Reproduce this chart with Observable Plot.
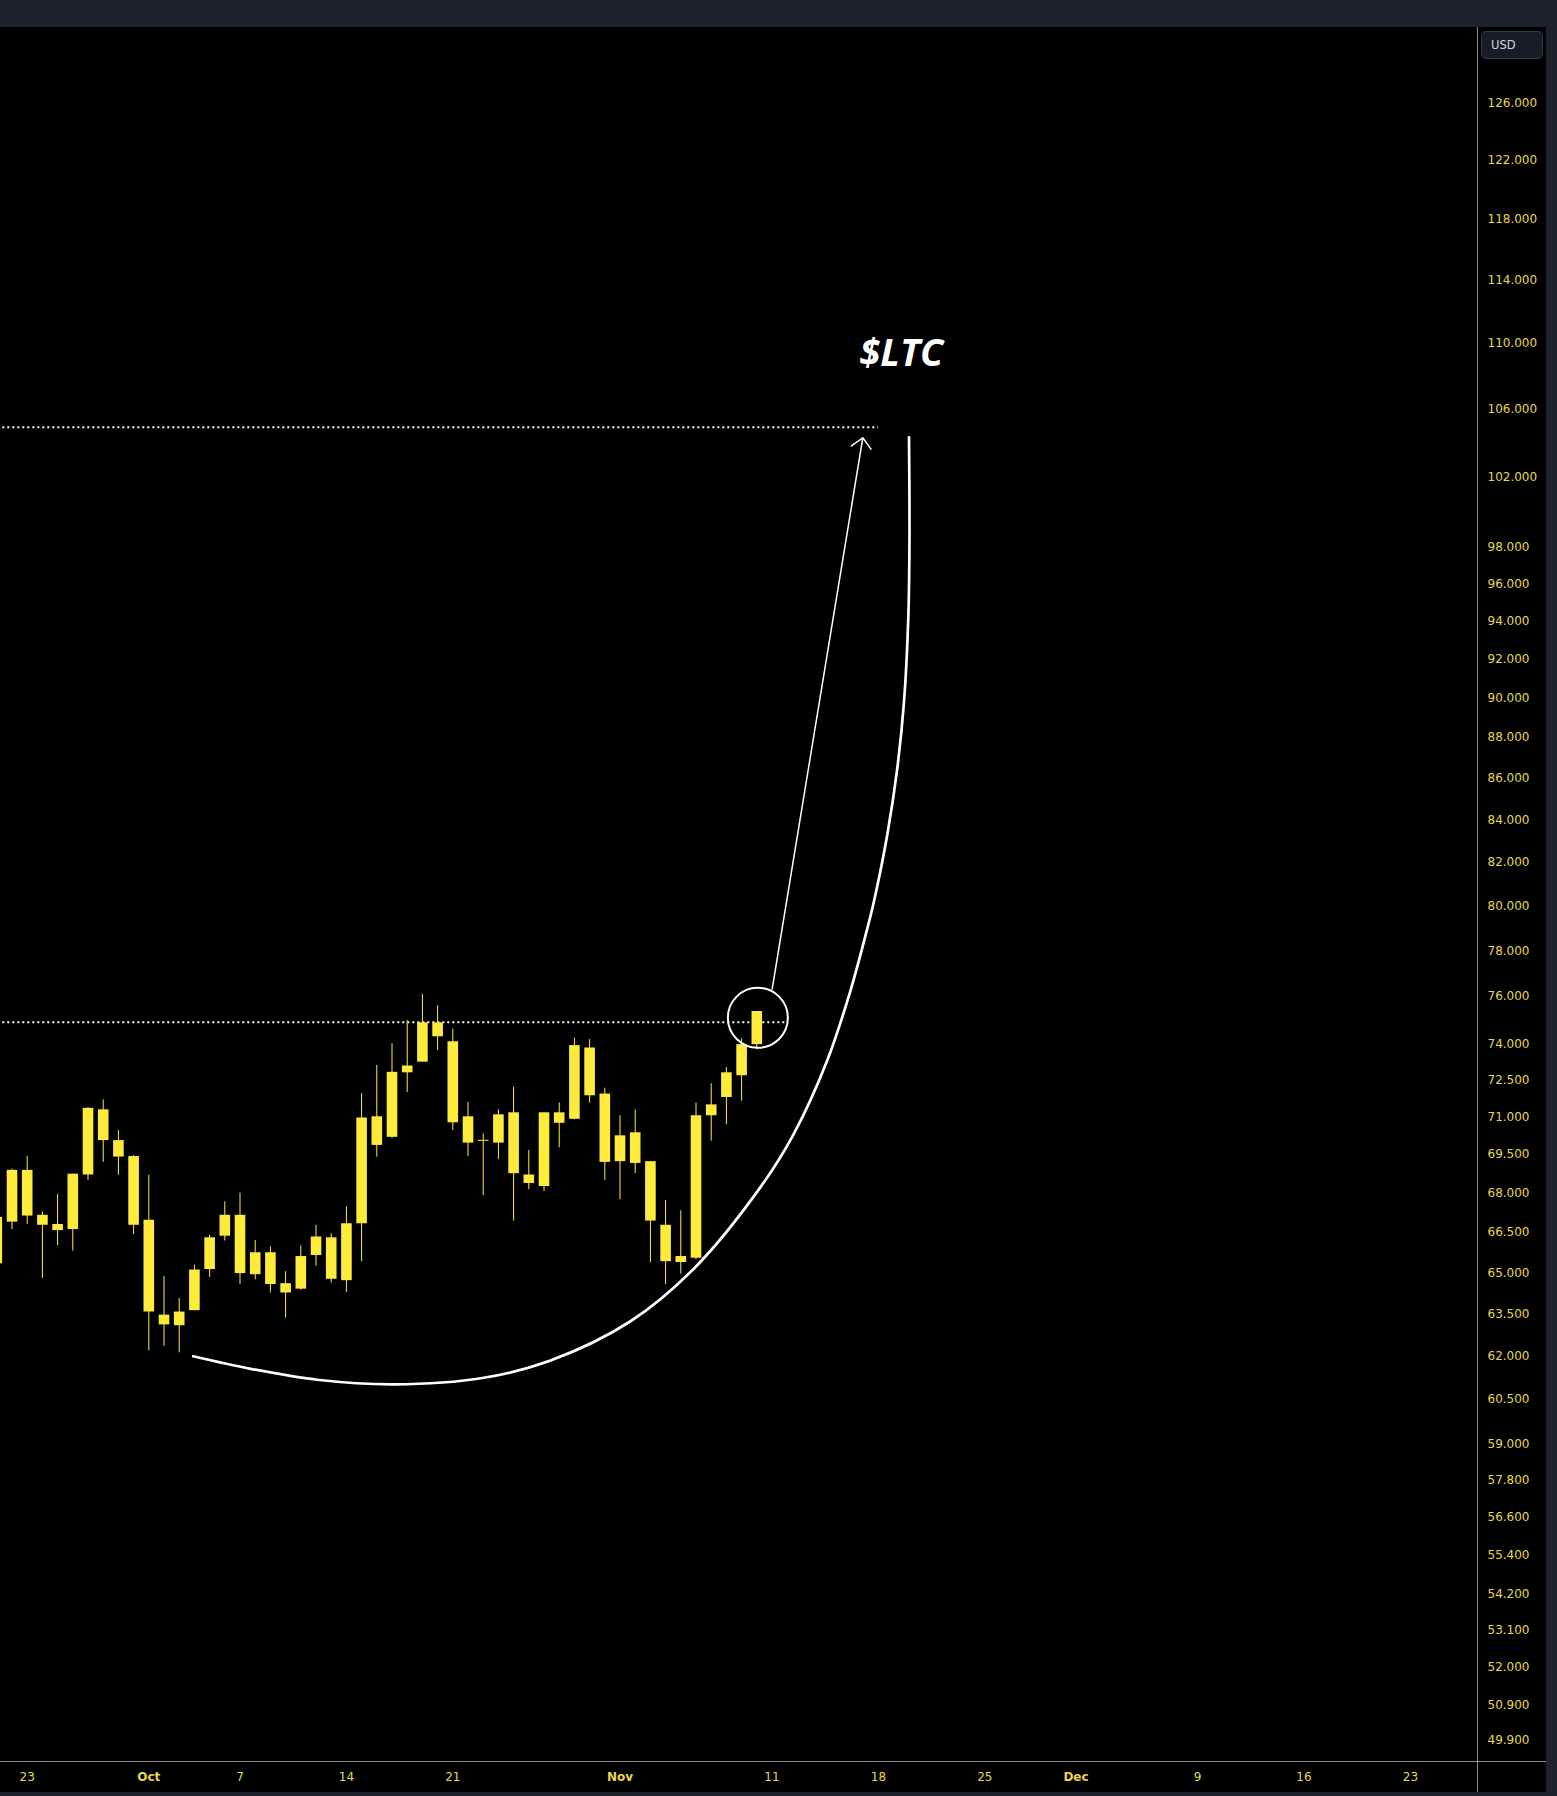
<!DOCTYPE html>
<html>
<head>
<meta charset="utf-8">
<script src="https://cdn.jsdelivr.net/npm/d3@7"></script>
<script src="https://cdn.jsdelivr.net/npm/@observablehq/plot@0.6"></script>
<style>
  html, body { margin: 0; padding: 0; background: #000; overflow: hidden; }
  #wrap { position: relative; width: 1557px; height: 1796px; }
  #wrap svg { position: absolute; left: 0; top: 0; }
  .chrome { position: absolute; background: #1e222d; z-index: 2; }
  .ln { position: absolute; background: #8c8c8c; z-index: 3; }
  #usd { position: absolute; left: 1481px; top: 31px; width: 60px; height: 26px;
         background: #181c26; border: 1px solid #363a45; border-radius: 5px; z-index: 4;
         font-family: "DejaVu Sans", sans-serif; font-size: 11.5px; color: #d1d4dc;
         line-height: 26px; box-sizing: content-box; }
  #usd span { margin-left: 9px; }
</style>
</head>
<body>
<div id="wrap">
  <div class="chrome" style="left:0;top:0;width:1557px;height:27px;"></div>
  <div class="chrome" style="left:1546px;top:0;width:11px;height:1796px;"></div>
  <div class="chrome" style="left:0;top:1792px;width:1557px;height:4px;"></div>
  <div class="ln" style="left:1477px;top:1761px;width:1px;height:31px;"></div>
  <div class="ln" style="left:1477px;top:1761px;width:69px;height:1px;"></div>
  <div id="usd"><span>USD</span></div>
</div>
<script>
// ---- Daily candles (LTC/USD) ----
const dates = [
  "2024-09-21","2024-09-22","2024-09-23","2024-09-24","2024-09-25","2024-09-26","2024-09-27","2024-09-28","2024-09-29","2024-09-30",
  "2024-10-01","2024-10-02","2024-10-03","2024-10-04","2024-10-05","2024-10-06","2024-10-07","2024-10-08","2024-10-09","2024-10-10",
  "2024-10-11","2024-10-12","2024-10-13","2024-10-14","2024-10-15","2024-10-16","2024-10-17","2024-10-18","2024-10-19","2024-10-20",
  "2024-10-21","2024-10-22","2024-10-23","2024-10-24","2024-10-25","2024-10-26","2024-10-27","2024-10-28","2024-10-29","2024-10-30",
  "2024-10-31","2024-11-01","2024-11-02","2024-11-03","2024-11-04","2024-11-05","2024-11-06","2024-11-07","2024-11-08","2024-11-09","2024-11-10"
];
const opens = [
  65.33,66.89,68.88,67.15,66.80,66.61,68.70,71.28,70.05,69.42,
  66.96,63.46,63.08,63.62,65.12,66.36,67.15,64.93,65.74,64.60,
  64.40,65.64,66.30,64.71,66.83,71.00,70.18,72.79,73.23,74.88,
  74.08,71.00,70.02,69.95,71.16,68.37,68.25,71.16,70.90,73.82,
  71.92,69.22,70.36,69.22,66.77,65.38,65.54,71.04,71.78,72.67,73.96
];
const highs = [
  67.18,68.93,69.42,67.28,67.95,68.73,71.38,71.68,70.45,69.46,
  68.69,64.86,64.06,65.28,66.39,67.66,68.00,66.20,65.96,65.04,
  66.00,66.77,66.45,67.47,71.94,73.10,74.00,74.97,76.10,75.60,
  74.61,71.58,70.32,71.28,72.20,69.66,71.16,71.56,74.24,74.17,
  72.16,71.04,71.28,69.22,67.72,67.32,71.56,72.34,73.00,74.20,75.36
];
const lows = [
  65.23,66.60,66.80,64.79,66.00,65.80,68.49,69.19,68.69,66.42,
  62.19,62.35,62.12,63.62,64.83,66.18,64.57,64.74,64.26,63.35,
  64.36,65.24,64.62,64.28,65.41,69.40,70.13,71.98,73.23,73.71,
  70.45,69.42,67.90,69.30,66.93,68.13,68.06,69.76,70.88,71.55,
  68.49,67.74,68.75,65.37,64.57,64.95,65.48,70.03,70.68,71.63,73.74
];
const closes = [
  67.07,68.88,67.12,66.77,66.57,68.73,71.34,70.05,69.40,66.77,
  63.57,63.11,63.57,65.10,66.30,67.15,64.97,65.74,64.57,64.26,
  65.60,66.33,64.76,66.83,70.95,69.86,72.81,73.07,74.88,74.29,
  70.76,69.95,70.06,71.08,68.75,68.70,71.16,70.74,73.92,71.85,
  69.19,70.24,69.15,66.93,65.41,65.60,71.04,71.48,72.79,73.96,75.36
];

// ---- Axis ticks ----
const yTicks = [126,122,118,114,110,106,102,98,96,94,92,90,88,86,84,82,80,78,76,74,72.5,71,69.5,68,66.5,65,63.5,62,60.5,59,57.8,56.6,55.4,54.2,53.1,52,50.9,49.9];
const dayTickDates = ["2024-09-23","2024-10-07","2024-10-14","2024-10-21","2024-11-11","2024-11-18","2024-11-25","2024-12-09","2024-12-16","2024-12-23"];
const dayTickLabels = ["23","7","14","21","11","18","25","9","16","23"];
const monthTickDates = ["2024-10-01","2024-11-01","2024-12-01"];
const monthTickLabels = ["Oct","Nov","Dec"];

// ---- Annotations (in data space) ----
const levelPrices = [104.9, 74.9];
const levelEnds = ["2024-11-18T00:10Z", "2024-11-11T21:18Z"];
const levelStart = "2024-09-01";

const cupDates = [
  "2024-10-03T22:06Z","2024-10-07T16:35Z","2024-10-12T01:54Z","2024-10-17T02:50Z","2024-10-23T00:56Z",
  "2024-10-27T10:16Z","2024-11-01T16:35Z","2024-11-05T20:31Z","2024-11-10T05:50Z","2024-11-12T10:25Z",
  "2024-11-14T15:10Z","2024-11-16T03:56Z","2024-11-17T06:56Z","2024-11-17T17:12Z","2024-11-18T14:13Z",
  "2024-11-19T06:00Z","2024-11-19T16:35Z","2024-11-19T23:13Z","2024-11-20T01:06Z","2024-11-20T00:19Z"
];
const cupPrices = [62.00,61.56,61.18,61.02,61.25,61.85,63.24,65.15,68.23,70.32,73.30,76.26,79.04,80.24,83.33,86.53,89.86,94.20,98.76,104.31];

const circleDate = "2024-11-10T01:40Z";
const circlePrice = 75.09;

const arrowFrom = {date: "2024-11-11T00:19Z", price: 76.33};
const arrowTo = {date: "2024-11-16T23:23Z", price: 104.28};

const titleText = "$LTC";
const titleDate = "2024-11-19T12:10Z";
const titlePrice = 109.37;

const xDomain = ["2024-09-21T05:50Z", "2024-12-27T09:56Z"];
const yDomain = [49.29, 131.54];

// ---- Build tables ----
const candles = dates.map((d, i) => ({date: new Date(d), open: opens[i], high: highs[i], low: lows[i], close: closes[i]}));
const levels = levelPrices.map((p, i) => ({price: p, start: new Date(levelStart), end: new Date(levelEnds[i])}));
const cup = cupDates.map((d, i) => ({date: new Date(d), price: cupPrices[i]}));
const dayLabel = new Map(dayTickDates.map((d, i) => [new Date(d).getTime(), dayTickLabels[i]]));
const monthLabel = new Map(monthTickDates.map((d, i) => [new Date(d).getTime(), monthTickLabels[i]]));

const YELLOW = "#ffeb3b";
const LABEL = "#e8d84a";
const LINE = "#8c8c8c";

const chart = Plot.plot({
  width: 1557,
  height: 1796,
  marginLeft: 0,
  marginRight: 80,
  marginTop: 27,
  marginBottom: 35,
  style: {background: "transparent", fontFamily: "DejaVu Sans, sans-serif", fontSize: "12px", color: LABEL},
  x: {type: "utc", domain: xDomain.map(d => new Date(d))},
  y: {type: "log", domain: yDomain},
  marks: [
    Plot.ruleY(levels, {y: "price", x1: "start", x2: "end", stroke: "#ffffff", strokeWidth: 2, strokeDasharray: "2,3", clip: true}),
    Plot.ruleX(candles, {x: "date", y1: "low", y2: "high", stroke: YELLOW, strokeWidth: 1, clip: true}),
    Plot.ruleX(candles, {x: "date", y1: "open", y2: "close", stroke: YELLOW, strokeWidth: 10.6, clip: true}),
    Plot.line(cup, {x: "date", y: "price", curve: "catmull-rom", stroke: "#ffffff", strokeWidth: 2.7}),
    Plot.dot([{date: new Date(circleDate), price: circlePrice}], {x: "date", y: "price", r: 30, stroke: "#ffffff", strokeWidth: 2, fill: "none"}),
    Plot.arrow([{x1: new Date(arrowFrom.date), y1: arrowFrom.price, x2: new Date(arrowTo.date), y2: arrowTo.price}],
      {x1: "x1", y1: "y1", x2: "x2", y2: "y2", stroke: "#ffffff", strokeWidth: 1.5, headLength: 14, headAngle: 90}),
    Plot.text([{date: new Date(titleDate), price: titlePrice, text: titleText}],
      {x: "date", y: "price", text: "text", fill: "#ffffff", fontSize: 38, fontWeight: "bold", fontStyle: "italic",
       fontFamily: "Open Sans", textAnchor: "middle", lineAnchor: "middle"}),
    Plot.frame({anchor: "right", stroke: LINE}),
    Plot.frame({anchor: "bottom", stroke: LINE}),
    Plot.axisY({anchor: "right", ticks: yTicks, tickFormat: d => d.toFixed(3), tickSize: 0, tickPadding: 10,
      fill: LABEL, fontSize: 12, label: null}),
    Plot.axisX({ticks: dayTickDates.map(d => new Date(d)), tickFormat: d => dayLabel.get(d.getTime()),
      tickSize: 0, tickPadding: 11, fill: LABEL, fontSize: 12, label: null}),
    Plot.axisX({ticks: monthTickDates.map(d => new Date(d)), tickFormat: d => monthLabel.get(d.getTime()),
      tickSize: 0, tickPadding: 11, fill: LABEL, fontSize: 12, fontWeight: "bold", label: null})
  ]
});
document.getElementById("wrap").appendChild(chart);
</script>
</body>
</html>
